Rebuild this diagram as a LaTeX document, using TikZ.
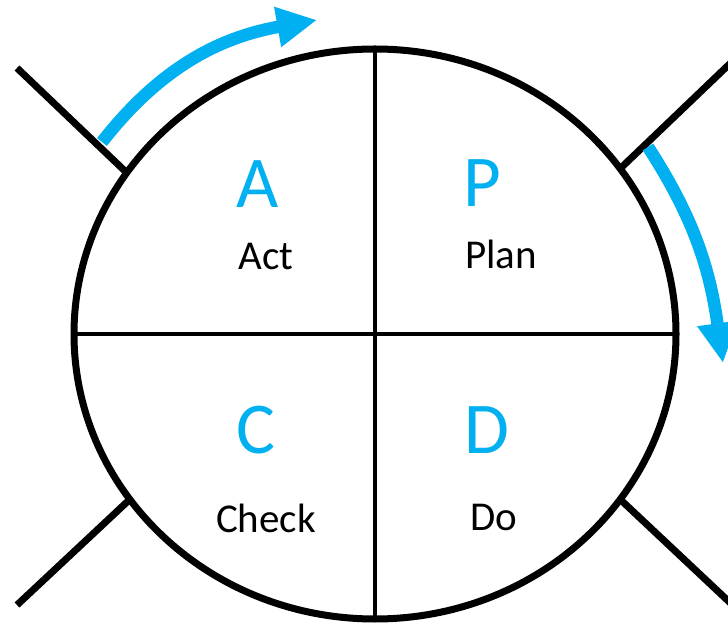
\documentclass[tikz,border=0pt]{standalone}
\usepackage{fontspec}
\setmainfont{Carlito}
\usetikzlibrary{shapes.geometric,arrows.meta}
\definecolor{pdcablue}{HTML}{00B0F0}

\begin{document}
\begin{tikzpicture}[x=1pt,y=1pt,
  letter/.style={anchor=base,inner sep=0pt,text=pdcablue,font=\fontsize{73}{80}\selectfont},
  word/.style={anchor=base,inner sep=0pt,font=\fontsize{41}{48}\selectfont},
  spoke/.style={line width=7pt},
  turn/.style={pdcablue,line width=12.5pt,-{Triangle[length=40pt,width=38pt]}}]
  \useasboundingbox (0,0) rectangle (728,624);
  \clip (0,0) rectangle (728,624);

  \node[ellipse,draw,line width=7pt,minimum width=602pt,minimum height=570pt,
    inner sep=0pt,outer sep=0pt] (cycle) at (375,290) {};

  \draw[line width=4.5pt] (cycle.north) -- (cycle.south);
  \draw[line width=4.5pt] (cycle.west) -- (cycle.east);

  \coordinate (ul) at (17,556);
  \coordinate (ur) at (740,570);
  \coordinate (ll) at (17,19);
  \coordinate (lr) at (740,12);

  \draw[spoke] (cycle.147) -- (ul);
  \draw[spoke] (cycle.34) -- (ur);
  \draw[spoke] (cycle.214) -- (ll);
  \draw[spoke] (cycle.326) -- (lr);

  \node[letter] (A) at (258,416) {A};
  \node[word] (act) at (266,354) {Act};
  \node[letter] (P) at (482,417) {P};
  \node[word] (plan) at (501,355) {Plan};
  \node[letter] (C) at (256,170) {C};
  \node[word] (check) at (266,92) {Check};
  \node[letter] (D) at (487,170) {D};
  \node[word] (do) at (494,94) {Do};

  \coordinate (actstart) at (102,482);
  \coordinate (plantip) at (317,604);
  \coordinate (planstart) at (648,477);
  \coordinate (dotip) at (723,261);

  \draw[turn] (actstart) to[out=52,in=190] (plantip);
  \draw[turn] (planstart) to[out=-57,in=98] (dotip);
\end{tikzpicture}
\end{document}
